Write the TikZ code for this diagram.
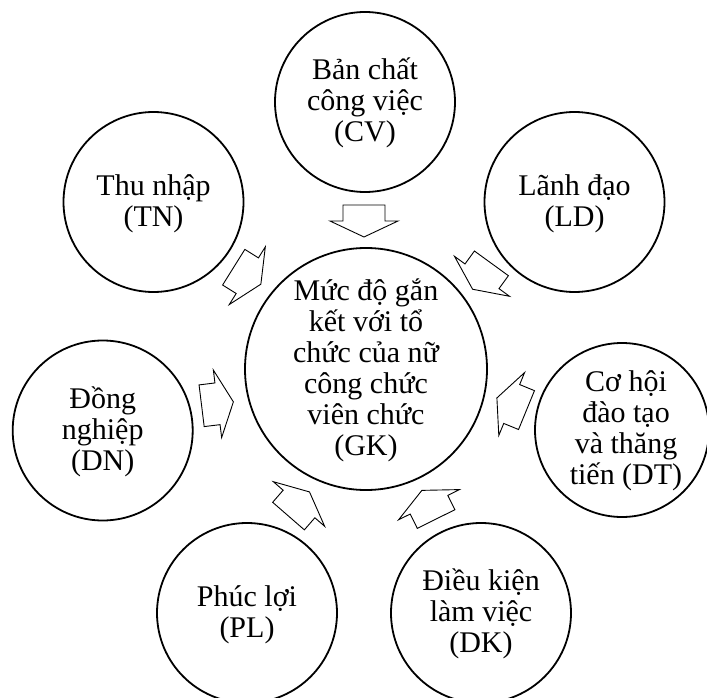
\documentclass[tikz,border=0pt]{standalone}
\usepackage{fontspec}
\setmainfont{Liberation Serif}
\newcommand\topst{\rule{0pt}{30pt}}
\newcommand\botst{\rule[-30pt]{0pt}{30pt}}
\tikzset{
  bubble/.style={circle, draw, line width=1.8pt, inner sep=0pt, minimum size=180pt},
  ctext/.style={align=center, font=\fontsize{30}{31}\selectfont, inner sep=0pt},
  arrowline/.style={draw, line width=0.9pt, fill=white, line join=miter},
  blockarrow/.pic={\path[arrowline] (-16,-21) -- (0,-21) -- (0,-34) -- (16,0) -- (0,34) -- (0,21) -- (-16,21) -- cycle;}
}
\begin{document}
\begin{tikzpicture}[x=1pt,y=-1pt]
\useasboundingbox (0,0) rectangle (707,698);
\clip (0,0) rectangle (707,698);
% circles
\node[bubble] (cv) at (365,102) {};
\node[bubble] (tn) at (153.5,202) {};
\node[bubble] (ld) at (574.5,202) {};
\node[bubble, minimum size=242pt] (gk) at (366,369) {};
\node[bubble] (dn) at (102.7,430.5) {};
\node[bubble, minimum size=174pt] (dt) at (622,430) {};
\node[bubble] (pl) at (247,613) {};
\node[bubble] (dk) at (481,613) {};
% texts
\node[ctext] (cvt) at (365,110.5) {\topst Bản chất\\công việc\\(CV)\botst};
\node[ctext] (tnt) at (153.5,210.5) {\topst Thu nhập\\(TN)\botst};
\node[ctext] (ldt) at (574.5,210.5) {\topst Lãnh đạo\\(LD)\botst};
\node[ctext] (gkt) at (366,377.5) {\topst Mức độ gắn\\kết với tổ\\chức của nữ\\công chức\\viên chức\\(GK)\botst};
\node[ctext] (dnt) at (102.7,439) {\topst Đồng\\nghiệp\\(DN)\botst};
\node[ctext] (dtt) at (626,438) {\topst Cơ hội\\đào tạo\\và thăng\\tiến (DT)\botst};
\node[ctext] (plt) at (247,621.5) {\topst Phúc lợi\\(PL)\botst};
\node[ctext] (dkt) at (481,621.5) {\topst Điều kiện\\làm việc\\(DK)\botst};
% block arrows
\pic[rotate=-90] (acv) at (364,221) {blockarrow};
\pic[rotate=-32] (atn) at (247.3,275.7) {blockarrow};
\pic[rotate=-126] (ald) at (482,276.3) {blockarrow};
\pic[rotate=7] (adn) at (217.5,403.8) {blockarrow};
\pic[rotate=157.7] (adt) at (511.7,404) {blockarrow};
\pic[rotate=49] (apl) at (299,504) {blockarrow};
\pic[rotate=116.4] (adk) at (429,504.7) {blockarrow};
\end{tikzpicture}
\end{document}
